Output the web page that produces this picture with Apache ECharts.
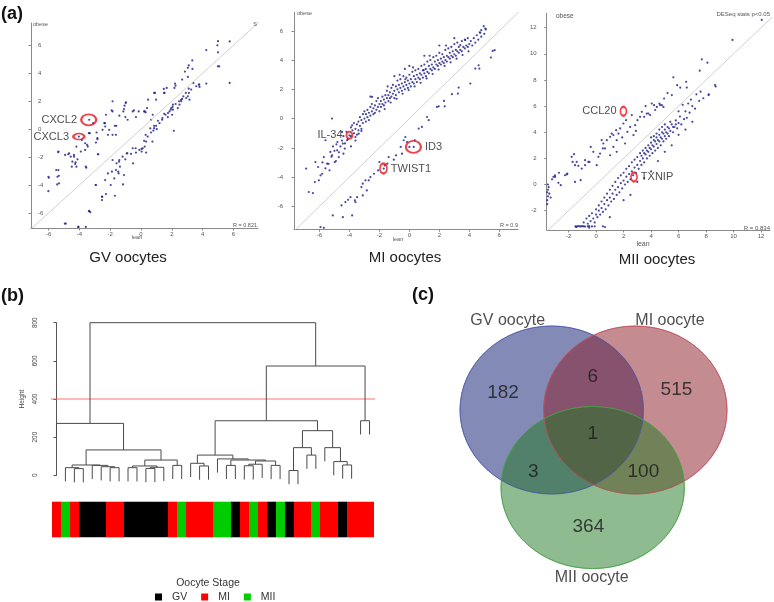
<!DOCTYPE html>
<html><head><meta charset="utf-8">
<script src="https://cdn.jsdelivr.net/npm/echarts@6/dist/echarts.min.js"></script>
<style>html,body{margin:0;padding:0;background:#fff}#c{width:774px;height:602px}</style>
</head><body><div id="c"></div>
<script>
// ---------- DATA ----------
// (a) scatter plots: [lean, obese] log expression
const gvPoints = [
[5.0,6.3],[4.96,6.0],[5.76,6.28],[5.0,5.5],[4.24,5.66],[3.33,4.92],[3.1,4.56],[3.04,4.39],[2.85,4.12],[3.04,3.74],[2.67,3.55],[2.24,3.12],[2.17,2.95],[1.48,2.88],[1.52,2.59],[0.91,2.59],[0.98,2.11],[0.46,2.11],[0.39,1.51],[0.24,1.27],[-0.15,1.27],[-0.33,0.86],[-0.54,1.27],[-0.98,1.92],[-1.07,1.68],[-1.15,1.27],[-0.87,0.67],[-1.02,0.86],[-1.41,0.96],[-1.85,1.99],[-1.85,1.27],[-2.28,1.03],[-2.39,0.43],[-2.5,-0.05],[-2.07,-0.05],[-1.7,0.24],[-1.85,-0.41],[-1.63,-0.41],[-2.15,-0.41],[-2.33,0.19],[-2.89,-0.24],[-2.83,-0.72],[-2.93,-0.96],[-3.11,0.43],[-3.37,0.67],[-3.33,-0.29],[-4.04,-0.53],[-3.63,-1.01],[-3.46,-1.25],[-3.63,-1.49],[-3.91,-1.61],[-4.2,-1.25],[-4.35,-1.97],[-4.57,-1.97],[-4.67,-1.73],[-4.13,-2.16],[-4.46,-2.33],[-4.28,-2.49],[-4.2,-2.69],[-4.5,-2.69],[-4.93,-1.85],[-5.37,-1.61],[-3.59,-2.69],[-2.8,-1.8],[-3.85,-0.77],[-5.37,-2.93],[-5.43,-3.41],[-5.33,-3.88],[-6.02,-3.41],[-6.02,-4.44],
[1.67,2.95],[0.85,2.59],[-1.0,1.87],[-1.11,1.44],[-1.91,1.34],[-0.46,1.34],[0.2,1.27],[0.3,1.2],[-1.61,0.24],[-2.34,0.43],[3.34,4.31],[2.21,3.26],[1.5,2.59],
[-3.39,-0.29],[-2.84,-0.65],[-3.5,-1.13],[-4.36,-1.85],[-4.25,-2.37],[-4.73,-1.8],[-5.38,-1.65],[-5.34,-3.34],[-5.45,-3.96],[-5.51,-2.93],[-5.99,-3.48],[-3.56,-2.76],[-2.78,-1.8],
[5.76,3.31],[3.76,3.19],[3.8,3.02],[3.59,3.07],[3.26,2.83],[3.11,2.59],[3.04,2.35],[2.93,2.23],[3.15,2.11],[2.67,2.16],[2.61,1.99],[2.5,1.75],[2.07,1.75],[1.96,1.51],[1.85,1.27],[2.07,1.39],[1.59,1.03],[1.74,0.86],[1.37,0.67],[1.2,0.43],[0.98,0.24],[1.02,0],[0.8,-0.1],[0.65,-0.24],[2.13,-0.12],[0.43,-0.53],[0.33,-0.89],[0.24,-1.25],[0.11,-1.37],[-0.11,-1.49],[-0.33,-1.68],[-0.54,-1.37],[-0.65,-1.77],[-0.93,-1.73],[-1.02,-2.16],[-1.2,-1.97],[-1.41,-2.21],[-1.59,-2.45],[-1.37,-2.69],[-1.63,-2.93],[-1.46,-3.17],[-1.85,-2.21],[-1.89,-3.05],[-2.15,-3.17],[-1.74,-3.53],[-2.33,-3.65],[-2.28,-4.65],[-2.54,-4.84],[-2.54,-5.08],[-2.93,-4.0],[-3.37,-5.85],[-3.59,-7.0],[-4.89,-6.76],[-4.07,-7.0],[0.65,0.67],[0.76,1.03],[0.04,-1.61],[0.33,-1.68],[5.0,4.5],[4.24,3.26],[2.02,1.03],[2.39,1.51],
[5.08,4.5],[3.78,3.19],[3.4,3.3],[3.1,2.9],[2.91,2.59],[2.75,2.35],[2.6,2.1],[2.47,1.99],[2.25,1.8],[2.05,1.6],[1.93,1.39],[1.75,1.15],[1.5,1.1],[1.39,0.79],[1.1,0.6],[0.85,0.24],[0.6,0.05],
[0.85,0.07],[0.3,-0.41],[0.2,-0.84],[0.74,-0.89],[0.04,-1.42],[-0.35,-1.37],[-0.89,-1.73],[-0.52,-2.45],[-1.43,-2.33],[-1.48,-3.05],[-1.11,-3.29],[-1.17,-3.96],[-1.97,-4.0],[-2.52,-4.85],[-1.7,-4.77],[-2.95,-4.0],[-3.39,-5.88],[-3.3,-5.95],[-4.95,-6.76],[-4.08,-7.0]
];
const miPoints = [
// lower branch
[5.56,4.63],[5.69,4.68],[5.44,4.18],[4.62,3.65],[4.67,3.42],[4.4,3.42],[4.07,2.4],[3.29,2.12],[3.24,1.71],[2.84,1.67],[2.31,1.21],[1.96,0.84],[1.84,0.8],[2.36,0.84],[1.18,0.11],[1.29,-0.11],[0.62,-0.68],[0.36,-1.48],[0.29,-1.94],[0,-1.94],[-0.16,-1.6],[-0.38,-1.48],[-0.58,-1.94],[-0.49,-2.4],[-0.89,-2.51],[-1.04,-2.81],[-1.38,-2.63],[-1.47,-3.08],[-1.64,-3.2],[-1.71,-3.42],[-2.0,-2.97],[-2.09,-3.54],[-2.36,-3.77],[-2.6,-4.0],[-2.71,-4.22],[-2.93,-4.22],[-3.11,-4.45],[-3.2,-4.68],[-2.84,-4.91],[-3.11,-5.25],[-3.49,-5.37],[-3.64,-5.59],[-3.93,-5.37],[-4.09,-5.55],[-4.27,-5.71],[-4.53,-5.94],[-3.6,-5.71],[-3.82,-6.62],[-4.44,-6.74],[-5.11,-6.62],[-5.93,-7.42],[-5.71,-7.47],[-0.27,-1.26],[0.84,-0.57],
// upper branch outliers
[4.96,6.32],[4.8,6.05],[5.07,6.16],[4.73,5.87],[3.73,5.37],[3.4,5.02],[-2.49,1.48],[0.96,3.31],[-0.27,2.69],[-5.16,0],[-5.6,-1.48],[-6.89,-3.42],[-6.27,-2.97],[-6.09,-3.31],[-6.71,-5.02],[-6.44,-5.09],[-6.31,-4.34],[-5.93,-3.88],[-5.82,-3.77],[-5.49,-3.08],[-5.71,-2.63],[-5.27,-2.28],[-4.82,-2.17],[-4.87,-1.76],[-4.44,-1.71],[-4.0,-1.14],[-3.82,-0.46],[-4.49,-0.91],[-5.16,-2.51],[-6.04,-4.22],[-5.33,-3.54],[-4.98,-2.97],[-4.71,-2.63],[-4.31,-2.05],[-4.16,-1.48],[-3.6,-1.26],[-3.38,-1.03],[-3.2,-0.84],
[-5.0,-2.2],[-4.8,-1.6],[-5.2,-2.6],[-4.9,-2.9],[-5.4,-3.1],[-5.1,-1.9],[-4.7,-2.3],[-5.6,-3.4],[-5.8,-3.0],[-4.4,-2.4],[-3.9,-1.9],[-3.6,-1.5],[-2.6,1.5],[-1.0,2.9],[0.0,3.6],[-0.3,3.4],[1.0,4.3],[2.0,5.0],[3.0,5.5],
// upper branch dense band
[-4.6,-1.9],[-4.5,-1.5],[-4.4,-1.2],[-4.3,-1.7],[-4.2,-0.9],[-4.1,-1.4],[-3.9,-0.6],[-3.9,-1.2],[-3.8,-0.8],[-3.7,-1.0],[-3.7,-0.3],[-3.6,-0.7],[-3.5,-0.4],[-3.5,-1.1],[-3.4,-0.2],[-3.4,-0.8],[-3.3,0.1],[-3.3,-0.5],[-3.2,-0.1],[-3.2,-0.7],[-3.1,0.3],[-3.1,-0.3],[-3.0,0.0],[-3.0,0.5],[-2.9,-0.2],[-2.9,0.3],[-2.8,0.6],[-2.8,0.1],[-2.7,0.4],[-2.7,-0.1],[-2.6,0.8],[-2.6,0.2],[-2.5,0.5],[-2.5,1.0],[-2.4,0.3],[-2.4,0.7],[-2.3,0.9],[-2.3,0.4],[-2.2,1.2],[-2.2,0.6],[-2.1,0.8],[-2.1,1.4],[-2.0,0.5],[-2.0,1.0],[-1.9,1.2],[-1.9,0.8],[-1.8,1.5],[-1.8,1.0],[-1.7,1.3],[-1.7,0.9],[-1.6,1.6],[-1.6,1.1],[-1.5,1.4],[-1.5,1.9],[-1.4,1.2],[-1.4,1.6],[-1.3,1.8],[-1.3,1.4],[-1.2,2.1],[-1.2,1.5],[-1.1,1.7],[-1.1,2.3],[-1.0,1.4],[-1.0,1.9],[-0.9,2.2],[-0.9,1.6],[-0.8,2.0],[-0.8,2.6],[-0.7,1.8],[-0.7,2.3],[-0.6,2.1],[-0.6,2.7],[-0.5,1.9],[-0.5,2.4],[-0.4,2.2],[-0.4,2.9],[-0.3,2.5],[-0.3,2.0],[-0.2,2.3],[-0.2,2.8],[-0.1,2.1],[-0.1,2.6],[0.0,2.4],[0.0,3.0],[0.1,2.2],[0.1,2.7],[0.2,2.5],[0.2,3.2],[0.3,2.4],[0.3,2.9],[0.4,2.7],[0.4,3.3],[0.5,2.5],[0.5,3.0],[0.6,2.8],[0.6,3.4],[0.7,2.7],[0.7,3.1],[0.8,3.0],[0.8,3.6],[0.9,2.8],[0.9,3.3],[1.0,3.1],[1.0,3.7],[1.1,2.9],[1.1,3.4],[1.2,3.2],[1.2,3.9],[1.3,3.1],[1.3,3.6],[1.4,3.4],[1.4,4.0],[1.5,3.3],[1.5,3.7],[1.6,3.5],[1.6,4.2],[1.7,3.4],[1.7,3.9],[1.8,3.7],[1.8,4.3],[1.9,3.6],[1.9,4.0],[2.0,3.8],[2.0,4.5],[2.1,3.7],[2.1,4.1],[2.2,3.9],[2.2,4.4],[2.3,3.8],[2.3,4.2],[2.4,4.0],[2.4,4.7],[2.5,3.9],[2.5,4.3],[2.6,4.2],[2.6,4.8],[2.7,4.1],[2.7,4.5],[2.8,4.3],[2.8,4.9],[2.9,4.2],[2.9,4.6],[3.0,4.4],[3.0,5.1],[3.1,4.3],[3.1,4.7],[3.2,4.6],[3.2,5.2],[3.3,4.5],[3.3,4.9],[3.4,4.7],[3.5,4.6],[3.5,5.3],[3.6,4.9],[3.7,4.8],[3.7,5.4],[3.8,5.0],[3.9,4.9],[3.9,5.5],[4.0,5.1],[4.1,5.3],[4.2,5.0],[4.3,5.5],[4.4,5.2],[4.5,5.7],[4.6,5.4],[4.7,5.9],[4.8,5.6],[5.0,5.8],[5.1,6.1],
[-1.65,0.65],[-1.25,1.1],[-0.85,1.35],[-0.45,1.7],[-0.05,1.95],[0.35,2.2],[0.75,2.45],[1.15,2.75],[1.55,3.05],[1.95,3.35],[2.35,3.6],[2.75,3.85],[3.15,4.1],[3.55,4.35],[3.95,4.6],[-1.45,2.2],[-0.65,3.0],[0.25,3.5],[1.35,4.3],[2.45,5.0]
];
const miiPoints = [
// upper branch (obese > lean)
[-3.55,-1.5],[-3.55,-1.2],[-3.5,-0.9],[-3.55,-0.6],[-3.5,-0.4],[-3.45,-0.2],[-3.5,0.0],[-3.4,-0.7],[-3.3,-1.0],[-3.2,0.4],[-3.1,0.59],[-2.99,0.71],[-2.98,0.58],[-2.26,0.71],[-2.13,0.77],[-2.09,0.84],[-2.74,0.13],[-2.57,-0.05],[-1.6,2.32],[-1.53,0.2],[-1.53,1.48],[-1.12,0.33],[-1.41,1.73],[-1.29,1.43],[-0.8,1.86],[-0.8,1.48],[-0.56,1.73],[-0.49,1.73],[-0.39,2.88],[0.17,2.12],[0.29,2.37],[0.41,3.4],[0.49,2.76],[0.65,2.76],[0.78,3.39],[1.02,3.65],[1.14,3.9],[1.26,3.78],[1.46,4.16],[1.75,4.29],[1.99,4.67],[2.18,4.92],[2.28,4.03],[2.48,4.41],[2.6,5.31],[2.72,3.78],[2.84,4.54],[3.01,4.92],[3.2,5.18],[3.33,5.56],[3.5,5.18],[3.69,5.43],[3.81,5.43],[3.93,5.31],[4.05,6.2],[4.22,6.07],[4.42,5.94],[4.61,6.2],[4.65,6.08],[4.78,6.07],[4.9,5.94],[5.51,6.84],[4.95,6.58],[0.05,1.48],[0.53,3.14],[1.02,2.24],[1.5,2.5],[2.11,3.14],[1.5,3.39],[1.26,2.88],[1.63,3.9],[-1.7,1.73],[-1.04,1.22],[-1.77,2.12],[5.62,8.2],[6.55,7.86],[6.12,7.42],[6.6,7.42],[7.69,9.58],[8.1,9.32],[7.54,8.71],[9.92,11.06],[12.05,12.59],[-2.7,0.9],[-0.2,2.5],[3.6,6.0],[4.3,5.7],[5.2,7.0],[5.9,7.6],[1.9,3.6],[2.9,4.1],
// lower branch floor
[-1.5,-3.2],[-1.4,-3.22],[-1.3,-3.18],[-1.2,-3.2],[-1.1,-3.21],[-1.0,-3.19],[-0.9,-3.2],[-0.8,-3.22],[-0.6,-3.2],[-0.5,-3.18],[-0.3,-3.21],[-0.1,-3.2],[-1.45,-3.25],[0.65,-3.25],[0.5,-3.2],
// lower branch (lean > obese)
[-0.9,-2.9],[-0.7,-2.6],[-0.6,-3.0],[-0.5,-2.4],[-0.4,-2.8],[-0.3,-2.2],[-0.2,-2.6],[-0.1,-2.9],[0.0,-2.3],[0.0,-1.9],[0.1,-2.5],[0.2,-2.0],[0.2,-1.6],[0.3,-2.3],[0.4,-1.8],[0.4,-1.3],[0.5,-2.1],[0.6,-1.5],[0.6,-1.0],[0.7,-1.9],[0.8,-1.2],[0.8,-0.7],[0.9,-1.6],[1.0,-1.0],[1.0,-0.4],[1.1,-1.3],[1.2,-0.7],[1.2,-0.1],[1.3,-1.1],[1.4,-0.4],[1.4,0.2],[1.5,-0.8],[1.6,-0.2],[1.6,0.5],[1.7,-0.6],[1.8,0.1],[1.8,0.7],[1.9,-0.3],[2.0,0.3],[2.0,0.9],[2.1,0.0],[2.2,0.6],[2.2,1.2],[2.3,0.2],[2.4,0.8],[2.4,1.4],[2.5,0.4],[2.6,1.0],[2.6,1.7],[2.7,0.7],[2.8,1.3],[2.8,1.9],[2.9,0.9],[3.0,1.5],[3.0,2.1],[3.1,1.2],[3.2,1.8],[3.2,2.4],[3.3,1.5],[3.4,2.0],[3.4,2.6],[3.5,1.7],[3.6,2.3],[3.6,2.8],[3.7,2.0],[3.8,2.5],[3.8,3.0],[3.9,2.2],[4.0,2.7],[4.0,3.2],[4.1,2.4],[4.2,2.9],[4.2,3.4],[4.3,2.6],[4.4,3.1],[4.4,3.6],[4.5,2.8],[4.6,3.3],[4.6,3.8],[4.7,3.0],[4.8,3.5],[4.8,4.0],[4.9,3.3],[5.0,3.7],[5.0,4.2],[5.1,3.5],[5.2,3.9],[5.2,4.4],[5.3,3.7],[5.4,4.1],[5.5,4.6],[5.6,4.0],[5.7,4.4],[5.8,4.9],[5.9,4.3],[6.0,4.7],[6.1,5.2],[6.2,4.6],[6.4,5.0],[6.5,5.6],[6.6,5.1],[6.8,5.5],[7.0,6.0],[7.2,5.8],[7.5,6.4],[7.8,6.6],[8.2,6.9],[8.7,7.5],
[1.0,-2.5],[2.0,-1.2],[3.0,0.2],[4.0,1.0],[5.0,2.5],[6.0,3.8],[-0.5,-3.3],[3.5,0.5],[4.5,1.8],[5.5,3.0],[2.5,-0.8],[6.5,4.2],[7.0,4.8],
[3.9,2.8],[4.1,3.0],[4.3,3.3],[4.5,3.4],[4.7,3.6],[4.9,3.9],[5.1,4.0],[5.3,4.3],[4.0,3.6],[4.2,3.7],[4.4,3.9],[3.7,2.6],[3.5,2.4],[3.3,2.2],[4.6,4.2],[4.8,4.4],[5.0,4.6],[5.4,4.8],[5.6,4.4],[5.8,4.6],
[8.65,7.61],[8.18,6.84],[7.3,6.9],[6.9,6.5],[6.3,6.1],[6.0,5.6],[7.6,7.1],[6.7,6.2]
];
// highlighted genes
const gvGenes  = ['CXCL2','CXCL3'];
const gvGeneXY = [[-3.4,0.67],[-4.04,-0.53]];
const miGenes  = ['IL-34','ID3','TWIST1'];
const miGeneXY = [[-4.0,-1.14],[0.27,-1.94],[-1.73,-3.41]];
const miiGenes  = ['CCL20','TXNIP'];
const miiGeneXY = [[1.99,5.6],[2.76,0.58]];
const correlations = ['R = 0.821','R = 0.9','R = 0.834'];
const plotTitles = ['GV oocytes','MI oocytes','MII oocytes'];

// (b) hierarchical clustering: R-style merge matrix (negative = leaf in plotted order, positive = earlier merge) and heights
const mergeLeft  = [-3,-2,-7,-6,-5, 2, -9,-11, 8, 7,-14,10, 6,-1, -17,-16,-20,-22,18,-25,19,17,-19,16,-27,-29,25,-33,-32,-31,27,24,-35,32,14];
const mergeRight = [-4, 1,-8, 3, 4, 5,-10,-12,-13,9,-15,11,12,13, -18, 15,-21,-23,-24,-26,20,21,22,23,-28,-30,26,-34,28,29,30,31,-36,33,34];
const mergeHeight= [35,40,40,45,52,54, 40, 36, 42,49,52,80,133,272, 49, 63, 52, 50, 58, 52, 75, 80, 86,106, 25,106,145, 54, 72,145,234,286,286,573,800];
const hang = 72;
const cutHeight = 400;
const stages = ['MI','MII','MI','GV','GV','GV','MI','MI','GV','GV','GV','GV','GV','MI','MII','MI','MI','MI','MII','MII','GV','MI','MII','MI','GV','MII','GV','MI','MI','MII','MI','MI','GV','MI','MI','MI'];
const stageNames = ['GV','MI','MII'];

// (c) Venn diagram of DE genes
const vennSets = ['GV oocyte','MI oocyte','MII oocyte'];
const vennRegions = ['GV','GV∩MI','MI','GV∩MI∩MII','GV∩MII','MI∩MII','MII'];
const vennCounts  = [182, 6, 515, 1, 3, 100, 364];

// ---------- LAYOUT / STYLE ----------
const FONT = '"Liberation Sans", Arial, Helvetica, sans-serif';
const DOT = '#1c1c86';
const vennGeom = [[0,0,1,1],[0.912,0,1,1],[0.447,-0.923,1,0.965]]; // cx, cy, rx, ry in venn units
const vennFill = ['rgb(10,22,110)','rgb(137,25,35)','rgb(30,120,32)'];
const vennStroke = ['rgb(80,90,170)','rgb(190,80,95)','rgb(70,160,70)'];
const vennSetPos = [[-0.48,1.07],[1.29,1.07],[0.436,-2.0]];
const vennCountPos = [[-0.53,0.2],[0.447,0.4],[1.36,0.24],[0.447,-0.28],[-0.2,-0.73],[1.0,-0.73],[0.4,-1.39]];
const stageColor = {GV:'#000000', MI:'#ff0000', MII:'#00cc00'};

const grids = [
  {left:31, top:23, width:227, height:205},
  {left:294, top:12.3, width:224, height:217},
  {left:546.7, top:13.3, width:223.3, height:216.7},
  {left:52, top:322.7, width:322, height:152.6},
  {left:52, top:501.7, width:322, height:35.6},
  {left:423.3, top:300.8, width:348.5, height:294}
];
const ranges = [
  {x:[-7.15,7.6], y:[-7.08,7.6], xt:[-6,-4,-2,0,2,4,6], yt:[-6,-4,-2,0,2,4,6], yin:true, ym:7},
  {x:[-7.7,7.25], y:[-7.57,7.27], xt:[-6,-4,-2,0,2,4,6], yt:[-6,-4,-2,0,2,4,6], yin:false, ym:11},
  {x:[-3.59,12.65], y:[-3.48,13.1], xt:[-2,0,2,4,6,8,10,12], yt:[-2,0,2,4,6,8,10,12], yin:false, ym:10}
];

const xAxes = [], yAxes = [], series = [];
ranges.forEach((r, i) => {
  xAxes.push({gridIndex:i, type:'value', min:r.x[0], max:r.x[1],
    axisLine:{show:true, onZero:false, lineStyle:{color:'#8a8a8a', width:1}},
    axisTick:{show:true, length:2.5, customValues:r.xt, lineStyle:{color:'#8a8a8a'}},
    axisLabel:{customValues:r.xt, fontSize:6, color:'#555', margin:3, fontFamily:FONT},
    splitLine:{show:false}});
  yAxes.push({gridIndex:i, type:'value', min:r.y[0], max:r.y[1],
    axisLine:{show:true, onZero:false, lineStyle:{color:'#8a8a8a', width:1}},
    axisTick:{show:true, length:2.5, customValues:r.yt, lineStyle:{color:'#8a8a8a'}},
    axisLabel:{customValues:r.yt, fontSize:6, color:'#555', margin:r.ym, inside:r.yin, fontFamily:FONT},
    splitLine:{show:false}});
  series.push({type:'line', xAxisIndex:i, yAxisIndex:i, data:[[-20,-20],[20,20]], symbol:'none', silent:true,
    lineStyle:{color:'#c4c4c4', width:0.8}, animation:false});
});
series.push({type:'scatter', xAxisIndex:0, yAxisIndex:0, data:gvPoints, symbolSize:2.2, itemStyle:{color:DOT}});
series.push({type:'scatter', xAxisIndex:1, yAxisIndex:1, data:miPoints, symbolSize:2.2, itemStyle:{color:DOT}});
series.push({type:'scatter', xAxisIndex:2, yAxisIndex:2, data:miiPoints, symbolSize:2.2, itemStyle:{color:DOT}});

function geneSeries(gi, names, xy, sizes, pos) {
  return {type:'scatter', xAxisIndex:gi, yAxisIndex:gi, z:5,
    data: names.map((n, k) => ({name:n, value:xy[k], symbolSize:sizes[k], label:{position:pos[k]}})),
    symbol:'circle',
    itemStyle:{color:'rgba(0,0,0,0)', borderColor:'#e8141c', borderWidth:2},
    label:{show:true, formatter:'{b}', fontSize:11, color:'#222', fontFamily:FONT, distance:3}};
}
series.push(geneSeries(0, gvGenes, gvGeneXY, [[15,11],[11,6]], ['left','left']));
series.push(geneSeries(1, miGenes, miGeneXY, [[6,7],[15,12],[7,10]], ['left','right','right']));
series.push(geneSeries(2, miiGenes, miiGeneXY, [[6,9],[6,9]], ['left','right']));

// dendrogram axes
xAxes.push({gridIndex:3, type:'value', min:-0.5, max:35.5, show:false});
yAxes.push({gridIndex:3, type:'value', min:0, max:800, interval:200, offset:9,
  axisLine:{show:true, lineStyle:{color:'#555', width:1}},
  axisTick:{show:true, length:3, lineStyle:{color:'#555'}},
  axisLabel:{rotate:90, fontSize:6.5, color:'#444', margin:4, fontFamily:FONT},
  splitLine:{show:false},
  name:'Height', nameLocation:'middle', nameRotate:90, nameGap:17,
  nameTextStyle:{fontSize:6.5, color:'#444', fontFamily:FONT}});
// compute dendrogram segments from merge matrix
const nodeX = [], nodeH = [];
function childInfo(id, parentH) {
  if (id < 0) return [-id - 1, parentH - hang];
  return [nodeX[id - 1], nodeH[id - 1]];
}
const dendroSegs = [];
mergeLeft.forEach((l, k) => {
  const h = mergeHeight[k];
  const a = childInfo(l, h), b = childInfo(mergeRight[k], h);
  nodeX[k] = (a[0] + b[0]) / 2; nodeH[k] = h;
  dendroSegs.push([a[0], a[1], b[0], b[1], h]);
});
series.push({type:'custom', xAxisIndex:3, yAxisIndex:3, clip:false, silent:true,
  data:dendroSegs, encode:{x:[0,2], y:[1,3,4]},
  renderItem:(params, api) => {
    const lx = api.value(0), lh = api.value(1), rx = api.value(2), rh = api.value(3), h = api.value(4);
    return {type:'polyline', shape:{points:[api.coord([lx,lh]), api.coord([lx,h]), api.coord([rx,h]), api.coord([rx,rh])]},
      style:{stroke:'#4a4a4a', lineWidth:1, fill:null}};
  }});
series.push({type:'line', xAxisIndex:3, yAxisIndex:3, clip:false, symbol:'none', silent:true,
  data:[[-1.5,cutHeight],[36.2,cutHeight]], lineStyle:{color:'#ff6060', width:0.9}, z:1});

// colour bar: consecutive samples of the same stage are drawn as one block
xAxes.push({gridIndex:4, type:'value', min:-0.5, max:35.5, show:false});
yAxes.push({gridIndex:4, type:'value', min:0, max:1, show:false});
const runs = [];
stages.forEach((st, i) => {
  const last = runs[runs.length - 1];
  if (last && last.stage === st && last.end === i - 1) last.end = i;
  else runs.push({stage:st, start:i, end:i});
});
stageNames.forEach(s => {
  const d = runs.filter(r => r.stage === s).map(r => [r.start, r.end]);
  series.push({type:'custom', name:s, xAxisIndex:4, yAxisIndex:4, data:d, encode:{x:[0,1]},
    itemStyle:{color:stageColor[s]},
    renderItem:(params, api) => {
      const a = api.coord([api.value(0) - 0.5, 1]), b = api.coord([api.value(1) + 0.5, 0]);
      const x0 = Math.round(a[0]), x1 = Math.round(b[0]);
      return {type:'rect', shape:{x:x0, y:a[1], width:x1 - x0, height:b[1]-a[1]},
        style:{fill:api.visual('color')}};
    }});
});

// Venn
xAxes.push({gridIndex:5, type:'value', min:-1.4, max:2.4, show:false});
yAxes.push({gridIndex:5, type:'value', min:-2.2, max:1.3, show:false});
series.push({type:'custom', xAxisIndex:5, yAxisIndex:5, silent:true,
  data:vennGeom.map((g, k) => [g[0], g[1], g[2], g[3], k]),
  renderItem:(params, api) => {
    const c = api.coord([api.value(0), api.value(1)]);
    const s = api.size([api.value(2), api.value(3)]);
    const k = api.value(4);
    return {type:'ellipse', shape:{cx:c[0], cy:c[1], rx:s[0], ry:s[1]},
      style:{fill:vennFill[k], opacity:0.5, stroke:vennStroke[k], lineWidth:1}};
  }});
series.push({type:'custom', xAxisIndex:5, yAxisIndex:5, silent:true, z:3,
  data:vennGeom.map((g, k) => [g[0], g[1], g[2], g[3], k]),
  renderItem:(params, api) => {
    const c = api.coord([api.value(0), api.value(1)]);
    const s = api.size([api.value(2), api.value(3)]);
    const k = api.value(4);
    return {type:'ellipse', shape:{cx:c[0], cy:c[1], rx:s[0], ry:s[1]},
      style:{fill:null, stroke:vennStroke[k], lineWidth:1, opacity:0.8}};
  }});
series.push({type:'scatter', xAxisIndex:5, yAxisIndex:5, symbolSize:0, z:4, silent:true,
  data:vennCounts.map((v, k) => ({name:vennRegions[k], value:[vennCountPos[k][0], vennCountPos[k][1], v]})),
  label:{show:true, position:'inside', formatter:p => String(p.value[2]), fontSize:19, color:'#1a1a1a', fontFamily:FONT}});
series.push({type:'scatter', xAxisIndex:5, yAxisIndex:5, symbolSize:0, z:4, silent:true,
  data:vennSets.map((n, k) => ({name:n, value:vennSetPos[k]})),
  label:{show:true, position:'inside', formatter:'{b}', fontSize:16, color:'#222', fontFamily:FONT}});

function txt(x, y, text, size, align, color, weight) {
  return {type:'text', x:x, y:y, silent:true, z:10,
    style:{text:text, font:(weight ? weight + ' ' : '') + size + 'px ' + FONT, fill:color || '#222',
      align:align, textAlign:align, verticalAlign:'middle', textVerticalAlign:'middle'}};
}
const G = '#555';
const graphics = [
  txt(1, 14, '(a)', 18, 'left', '#111', 'bold'), txt(1, 296, '(b)', 18, 'left', '#111', 'bold'), txt(412, 295, '(c)', 18, 'left', '#111', 'bold'),
  txt(128, 258, plotTitles[0], 15, 'center'), txt(405, 258, plotTitles[1], 15, 'center'), txt(657, 260, plotTitles[2], 15, 'center'),
  txt(33, 24, 'obese', 5.5, 'left', G), txt(297, 13, 'obese', 5.5, 'left', G), txt(556, 16, 'obese', 6.5, 'left', G),
  txt(137, 237, 'lean', 5.5, 'center', G), txt(398, 239, 'lean', 5.5, 'center', G), txt(643, 244, 'lean', 7, 'center', G),
  txt(257, 225, correlations[0], 5.5, 'right', G), txt(518, 225, correlations[1], 5.5, 'right', G), txt(770, 228, correlations[2], 6, 'right', G),
  txt(770, 14, 'DESeq stats p<0.05', 6, 'right', G), txt(257, 24, 'S', 5.5, 'right', G),
  txt(208, 583, 'Oocyte Stage', 10.5, 'center', '#333')
];

const chart = echarts.init(document.getElementById('c'), null, {renderer:'canvas'});
chart.setOption({
  animation:false,
  backgroundColor:'#ffffff',
  grid:grids,
  xAxis:xAxes,
  yAxis:yAxes,
  legend:{data:stageNames, left:155, top:591.5, padding:0, itemWidth:7, itemHeight:7, itemGap:14, icon:'rect',
    textStyle:{fontSize:10.5, color:'#333', fontFamily:FONT, padding:[0,0,0,5]}},
  graphic:graphics,
  series:series
});
</script></body></html>
